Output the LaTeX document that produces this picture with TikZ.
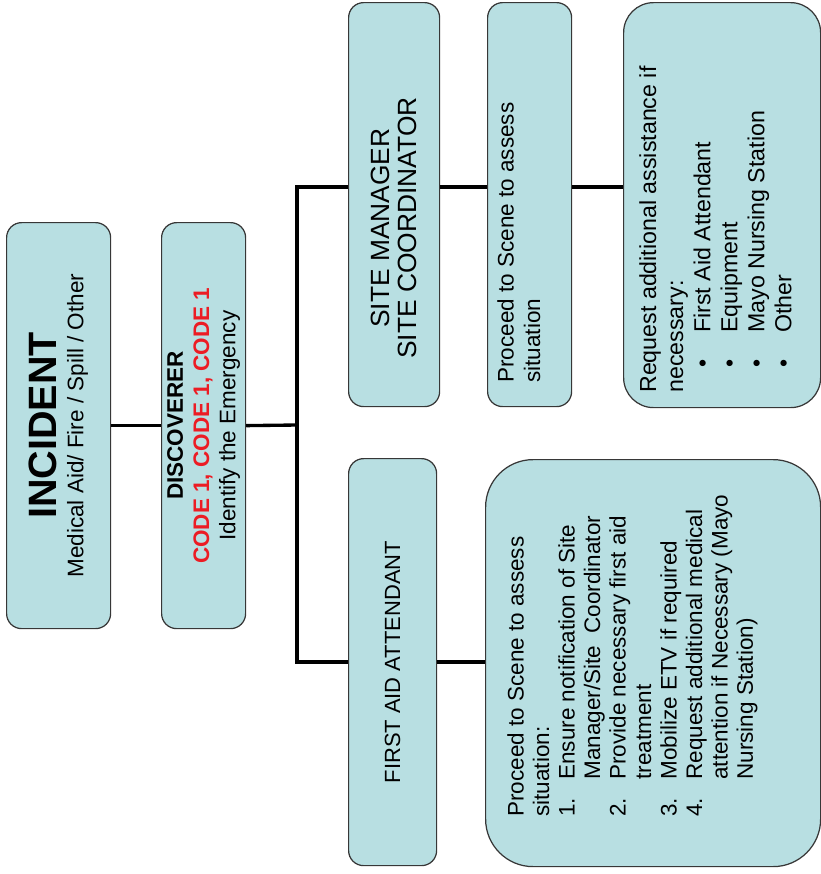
\documentclass[tikz,border=0pt]{standalone}
\usepackage{fontspec}
\setmainfont{Liberation Sans}
\definecolor{boxfill}{RGB}{184,223,226}
\definecolor{boxline}{RGB}{55,55,55}
\definecolor{codered}{RGB}{236,28,36}
\begin{document}
\begin{tikzpicture}[x=0.2mm,y=-0.2mm,
  box/.style={draw=boxline,line width=0.7pt,fill=boxfill,rounded corners=3mm,anchor=north west,inner sep=0pt},
  txt/.style={rotate=90,inner sep=0pt,font=\fontsize{12.8}{15}\selectfont},
  link/.style={line width=1.9pt}]
\useasboundingbox (0,0) rectangle (821,874);
% boxes
\node[box,minimum width=20.8mm,minimum height=81.2mm] (inc) at (6,222) {};
\node[box,minimum width=16.8mm,minimum height=81.2mm] (disc) at (161,222) {};
\node[box,minimum width=18.2mm,minimum height=80.8mm] (sm) at (348,2) {};
\node[box,minimum width=16.8mm,minimum height=80.8mm] (proc) at (487,2) {};
\node[box,minimum width=39.4mm,minimum height=81mm,rounded corners=6mm] (req) at (623,2) {};
\node[box,minimum width=17.6mm,minimum height=81.4mm] (fa) at (348,458) {};
\node[box,minimum width=67mm,minimum height=81.4mm,rounded corners=9.5mm] (act) at (485,459) {};
% texts
\node[txt,align=center] (inct) at (inc.center) {{\fontsize{22.5}{24}\selectfont\bfseries INCIDENT}\\Medical Aid/ Fire / Spill / Other};
\node[txt,align=center] (disct) at (disc.center) {\bfseries DISCOVERER\\\textcolor{codered}{\bfseries CODE 1, CODE 1, CODE 1}\\Identify the Emergency};
\node[txt,align=center,font=\fontsize{15}{15}\selectfont] (smt) at (394,228) {SITE MANAGER\\SITE COORDINATOR};
\node[txt,align=left,anchor=north west] (proct) at (497,383) {Proceed to Scene to assess\\situation};
\node[txt,align=left,anchor=north west,font=\fontsize{13.2}{15.4}\selectfont] (reqt) at (639,393) {Request additional assistance if\\necessary:\\
  \hspace*{5mm}\makebox[7mm][l]{\textbullet}First Aid Attendant\\
  \hspace*{5mm}\makebox[7mm][l]{\textbullet}Equipment\\
  \hspace*{5mm}\makebox[7mm][l]{\textbullet}Mayo Nursing Station\\
  \hspace*{5mm}\makebox[7mm][l]{\textbullet}Other};
\node[txt,align=center,font=\fontsize{12.5}{15}\selectfont] (fat) at (fa.center) {FIRST AID ATTENDANT};
\node[txt,align=left,anchor=north west,font=\fontsize{12.8}{14.5}\selectfont] (actt) at (507,817) {Proceed to Scene to assess\\situation:\\
  \makebox[7.4mm][l]{1.}Ensure notification of Site\\
  \hspace*{7.4mm}Manager/Site\ \ Coordinator\\
  \makebox[7.4mm][l]{2.}Provide necessary first aid\\
  \hspace*{7.4mm}treatment\\
  \makebox[7.4mm][l]{3.}Mobilize ETV if required\\
  \makebox[7.4mm][l]{4.}Request additional medical\\
  \hspace*{7.4mm}attention if Necessary (Mayo\\
  \hspace*{7.4mm}Nursing Station)};
% connectors
\coordinate (jtop) at (297,187);
\coordinate (jmid) at (297,425);
\coordinate (jbot) at (297,662);
\draw[link] (inc.east) -- (disc.west);
\draw[link] (disc.east) -- (jmid);
\draw[link] (jtop -| sm.west) -- (jtop) -- (jbot) -- (jbot -| fa.west);
\draw[link] (jtop -| sm.east) -- (jtop -| proc.west);
\draw[link] (jtop -| proc.east) -- (jtop -| req.west);
\draw[link] (jbot -| fa.east) -- (jbot -| act.west);
\end{tikzpicture}
\end{document}
